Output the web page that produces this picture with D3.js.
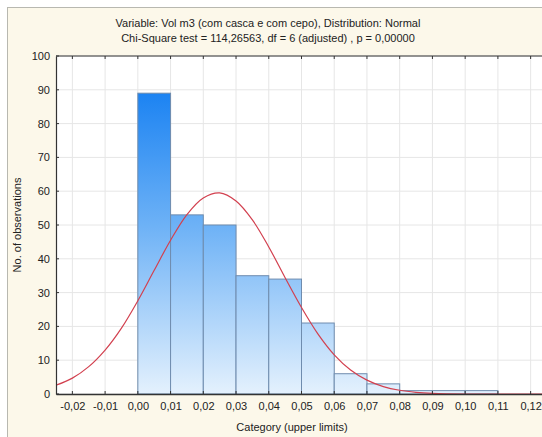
<!DOCTYPE html>
<html>
<head>
<meta charset="utf-8">
<script src="https://cdn.jsdelivr.net/npm/d3@7"></script>
<style>
  body { margin: 0; background: #ffffff; }
  svg { display: block; font-family: "Liberation Sans", Arial, sans-serif; }
</style>
</head>
<body>
<svg id="chart" width="542" height="437"></svg>
<script>
// bin lower limits / upper limits and counts
const binStart = [0.00, 0.01, 0.02, 0.03, 0.04, 0.05, 0.06, 0.07, 0.08, 0.09, 0.10];
const binEnd   = [0.01, 0.02, 0.03, 0.04, 0.05, 0.06, 0.07, 0.08, 0.09, 0.10, 0.11];
const counts   = [89, 53, 50, 35, 34, 21, 6, 3, 1, 1, 1];

// fitted normal curve
const curveX = [-0.025, -0.02, -0.015, -0.01, -0.005, 0.00, 0.005, 0.01, 0.015, 0.02, 0.025,
                0.03, 0.035, 0.04, 0.045, 0.05, 0.055, 0.06, 0.065, 0.07, 0.075, 0.08,
                0.085, 0.09, 0.10, 0.11, 0.125];
const curveY = [2.6, 4.7, 8.1, 13.0, 19.5, 27.6, 36.6, 45.5, 53.1, 58.0, 59.5,
                57.1, 51.5, 43.5, 34.4, 25.6, 17.8, 11.6, 7.1, 4.1, 2.2, 1.1,
                0.5, 0.2, 0.0, 0.0, 0.0];

const xTicks = [-0.02, -0.01, 0.00, 0.01, 0.02, 0.03, 0.04, 0.05, 0.06, 0.07, 0.08, 0.09, 0.10, 0.11, 0.12];
const yTicks = [0, 10, 20, 30, 40, 50, 60, 70, 80, 90, 100];

const titleLines = [
    "Variable: Vol m3 (com casca e com cepo), Distribution: Normal",
    "Chi-Square test = 114,26563, df = 6 (adjusted) , p = 0,00000"
];

const svg = d3.select("#chart");
const W = 542, H = 437;
const plot = {left: 56, top: 56, right: 547, bottom: 394};

// frame background
svg.append("rect")
    .attr("x", 7.5).attr("y", 7.5)
    .attr("width", W).attr("height", H)
    .attr("fill", "#fcf8ea")
    .attr("stroke", "#b8b8b0");

const x = d3.scaleLinear().domain([-0.025, 0.125]).range([plot.left, plot.right]);
const y = d3.scaleLinear().domain([0, 100]).range([plot.bottom, plot.top]);

const defs = svg.append("defs");
defs.append("clipPath").attr("id", "clip")
    .append("rect")
    .attr("x", plot.left).attr("y", plot.top - 1)
    .attr("width", plot.right - plot.left).attr("height", plot.bottom - plot.top + 2);

const grad = defs.append("linearGradient")
    .attr("id", "barGrad")
    .attr("gradientUnits", "userSpaceOnUse")
    .attr("x1", 0).attr("x2", 0)
    .attr("y1", y(90)).attr("y2", y(0));
grad.append("stop").attr("offset", "0%").attr("stop-color", "#1a82f2");
grad.append("stop").attr("offset", "45%").attr("stop-color", "#6eb2f6");
grad.append("stop").attr("offset", "100%").attr("stop-color", "#e4f1fd");

// plot area
svg.append("rect")
    .attr("x", plot.left).attr("y", plot.top)
    .attr("width", plot.right - plot.left).attr("height", plot.bottom - plot.top)
    .attr("fill", "#ffffff");

const g = svg.append("g").attr("clip-path", "url(#clip)");

// grid
g.selectAll(".vgrid").data(xTicks).join("line")
    .attr("class", "vgrid")
    .attr("x1", d => x(d)).attr("x2", d => x(d))
    .attr("y1", plot.top).attr("y2", plot.bottom)
    .attr("stroke", "#e6e6e6");
g.selectAll(".hgrid").data(yTicks).join("line")
    .attr("class", "hgrid")
    .attr("x1", plot.left).attr("x2", plot.right)
    .attr("y1", d => y(d)).attr("y2", d => y(d))
    .attr("stroke", "#e6e6e6");

// bars
g.selectAll(".bar").data(counts).join("rect")
    .attr("class", "bar")
    .attr("x", (d, i) => x(binStart[i]))
    .attr("width", (d, i) => x(binEnd[i]) - x(binStart[i]))
    .attr("y", d => y(d))
    .attr("height", d => y(0) - y(d))
    .attr("fill", "url(#barGrad)")
    .attr("stroke", "#6f8cae")
    .attr("stroke-width", 1);

// normal curve
const line = d3.line()
    .x(d => x(d[0]))
    .y(d => y(d[1]))
    .curve(d3.curveCatmullRom);
g.append("path")
    .datum(curveX.map((v, i) => [v, curveY[i]]))
    .attr("d", line)
    .attr("fill", "none")
    .attr("stroke", "#d2404f")
    .attr("stroke-width", 1.2);

// axes
const xAxis = d3.axisBottom(x).tickValues(xTicks)
    .tickSize(0).tickPadding(8)
    .tickFormat(d => d3.format(".2f")(d).replace(".", ",").replace("−", "-"));
const gx = svg.append("g").attr("transform", `translate(0,${plot.bottom})`).call(xAxis);
gx.select(".domain").attr("stroke", "#333").attr("stroke-width", 1.5);
gx.selectAll("text").attr("fill", "#222").style("font-size", "11px");

const yAxis = d3.axisLeft(y).tickValues(yTicks).tickSize(0).tickPadding(6);
const gy = svg.append("g").attr("transform", `translate(${plot.left},0)`).call(yAxis);
gy.select(".domain").attr("stroke", "#333").attr("stroke-width", 1.2);
gy.selectAll("text").attr("fill", "#222").style("font-size", "11px");

// small tick marks along top and bottom, left
svg.selectAll(".tt").data(xTicks).join("line")
    .attr("class", "tt")
    .attr("x1", d => x(d)).attr("x2", d => x(d))
    .attr("y1", plot.top).attr("y2", plot.top + 3)
    .attr("stroke", "#333");
svg.selectAll(".bt").data(xTicks).join("line")
    .attr("class", "bt")
    .attr("x1", d => x(d)).attr("x2", d => x(d))
    .attr("y1", plot.bottom).attr("y2", plot.bottom - 3)
    .attr("stroke", "#333");
svg.selectAll(".lt").data(yTicks).join("line")
    .attr("class", "lt")
    .attr("x1", plot.left).attr("x2", plot.left + 3)
    .attr("y1", d => y(d)).attr("y2", d => y(d))
    .attr("stroke", "#333");
svg.append("line")
    .attr("x1", plot.left).attr("x2", plot.right)
    .attr("y1", plot.top).attr("y2", plot.top)
    .attr("stroke", "#333");

// titles
svg.selectAll(".title").data(titleLines).join("text")
    .attr("class", "title")
    .attr("x", 268)
    .attr("y", (d, i) => 27 + i * 15)
    .attr("text-anchor", "middle")
    .attr("fill", "#222")
    .style("font-size", "11px")
    .text(d => d);

svg.append("text")
    .attr("x", 292).attr("y", 431)
    .attr("text-anchor", "middle")
    .attr("fill", "#222")
    .style("font-size", "11px")
    .text("Category (upper limits)");

svg.append("text")
    .attr("transform", `translate(21,${(plot.top + plot.bottom) / 2}) rotate(-90)`)
    .attr("text-anchor", "middle")
    .attr("fill", "#222")
    .style("font-size", "11px")
    .text("No. of observations");
</script>
</body>
</html>
